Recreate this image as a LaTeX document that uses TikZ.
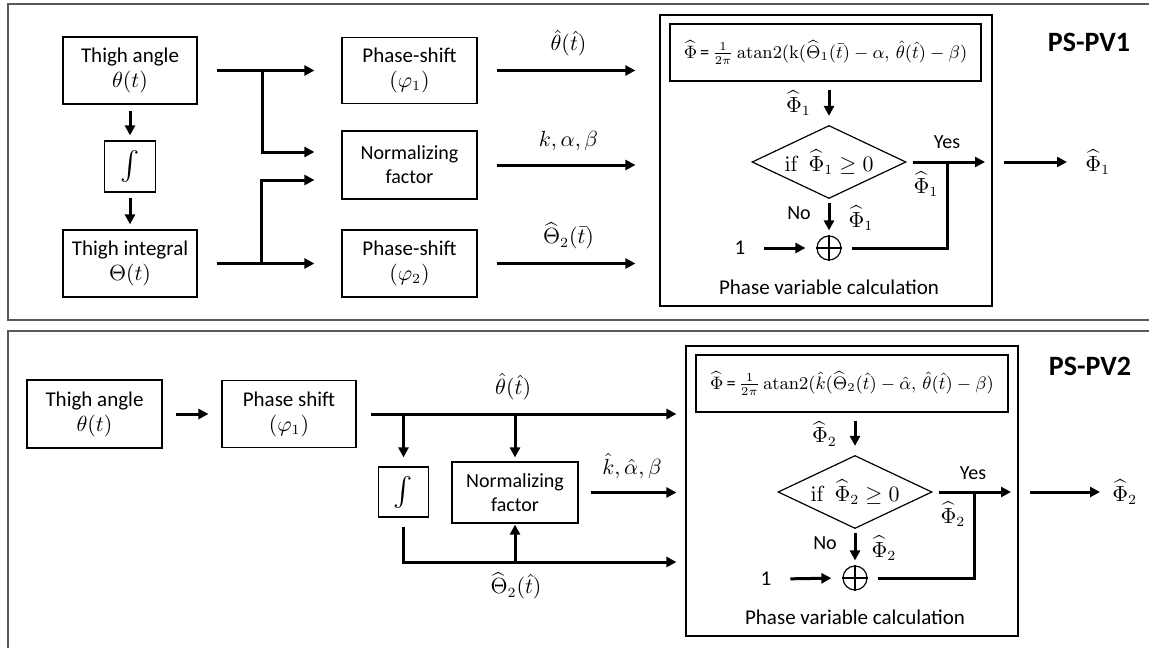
\documentclass[tikz,border=0pt]{standalone}
\usepackage{amsmath}
\usepackage[no-math]{fontspec}
\setmainfont{Carlito}
\usetikzlibrary{arrows.meta,shapes.geometric,calc}
\tikzset{
  box/.style={draw, line width=0.6pt, align=center, inner sep=0pt},
  arr/.style={line width=1.5pt, -{Triangle[length=5pt,width=5pt]}},
  ln/.style={line width=1.5pt},
  frm/.style={draw=black!65, line width=0.9pt},
  dia/.style={draw, diamond, line width=0.6pt, aspect=2.1, inner sep=0pt, minimum width=77pt, minimum height=36.5pt},
  sumc/.style={circle, draw, line width=0.6pt, minimum size=12pt, inner sep=0pt},
  small/.style={font=\fontsize{10}{12}\selectfont},
  form/.style={font=\fontsize{9.2}{11}\selectfont},
  title/.style={font=\bfseries\fontsize{14}{16}\selectfont},
}
\begin{document}
\begin{tikzpicture}[x=0.5pt,y=-0.5pt,font=\fontsize{10.5}{12.5}\selectfont]
\useasboundingbox (0,0) rectangle (1149,647);
% frames
\draw[frm] (1152,4) -- (8,4) -- (8,320) -- (1152,320);
\draw[frm] (1152,331) -- (8,331) -- (8,650);

% ================= PS-PV1 =================
\node[box, minimum width=67pt, minimum height=33.5pt] (ta1) at (130,70.5) {Thigh angle\\$\theta(t)$};
\node[box, minimum width=25.5pt, minimum height=25.5pt] (int1) at (130,166.5) {\fontsize{15}{15}\selectfont$\int$};
\node[box, minimum width=67pt, minimum height=33.5pt] (ti1) at (130,263.5) {Thigh integral\\$\Theta(t)$};
\node[box, minimum width=67.5pt, minimum height=33pt] (ps1) at (409.5,70.5) {Phase-shift\\$(\varphi_1)$};
\node[box, small, minimum width=67.5pt, minimum height=34pt] (nf1) at (409.5,165) {Normalizing\\factor};
\node[box, minimum width=67.5pt, minimum height=33.5pt] (ps2) at (409.5,263.5) {Phase-shift\\$(\varphi_2)$};
\node[box, minimum width=166pt, minimum height=145.5pt] (pvc1) at (826,160.5) {};
\node[box, form, minimum width=155.5pt, minimum height=28.5pt] (fb1) at (825.5,52.5)
  {$\widehat{\Phi}$\,=\,$\frac{1}{2\pi}\,\mathrm{atan2}(\mathrm{k}(\widehat{\Theta}_1(\bar{t})-\alpha,\,\hat{\theta}(\hat{t})-\beta)$};
\node[dia] (d1) at (829,162) {$\mathrm{if}\ \ \widehat{\Phi}_1\geq 0$};
\node[sumc] (sum1) at (829,248) {};
\draw[line width=0.6pt] (sum1.north) -- (sum1.south) (sum1.west) -- (sum1.east);
\node (one1) at (740,248) {1};
\node (pvl1) at (829,287) {Phase variable calculation};
\node[title] (t1) at (1089,42) {PS-PV1};
\node[anchor=west, inner sep=2pt] (out1) at (1081,162) {$\widehat{\Phi}_1$};
\node[small] (yes1l) at (947,142) {Yes};
\node (p1a) at (926,184) {$\widehat{\Phi}_1$};
\node[small] (no1) at (799,213) {No};
\node (p1b) at (861,218) {$\widehat{\Phi}_1$};

\draw[arr, shorten <=9.5pt, shorten >=13.5pt] (ta1.east) -- (ps1.west);
\coordinate (j1) at ([xshift=32.5pt]ta1.east);
\draw[arr, shorten >=13.5pt] (j1) |- ([yshift=6.5pt]nf1.west);
\draw[arr, shorten <=9.5pt, shorten >=13.5pt] (ti1.east) -- (ps2.west);
\coordinate (j2) at ([xshift=32pt]ti1.east);
\draw[arr, shorten >=13.5pt] (j2) |- ([yshift=-7.5pt]nf1.west);
\draw[arr, shorten <=3pt, shorten >=2.5pt] (ta1.south) -- (int1.north);
\draw[arr, shorten <=2.5pt, shorten >=2.5pt] (int1.south) -- (ti1.north);

\draw[arr, shorten <=9.5pt, shorten >=12pt] (ps1.east) -- (ps1.east -| pvc1.west) node[midway, above=3pt] {$\hat{\theta}(\hat{t})$};
\draw[arr, shorten <=9.5pt, shorten >=12pt] (nf1.east) -- (nf1.east -| pvc1.west) node[midway, above=3pt] {$k,\alpha,\beta$};
\draw[arr, shorten <=9.5pt, shorten >=12pt] (ps2.east) -- (ps2.east -| pvc1.west) node[midway, above=3pt] {$\widehat{\Theta}_2(\bar{t})$};

\draw[arr, shorten <=4pt, shorten >=4.5pt] (d1.north |- fb1.south) -- (d1.north) node[midway, left=5pt] {$\widehat{\Phi}_1$};
\coordinate (yes1) at (985,162);
\draw[arr, shorten <=3pt] (d1.east) -- (yes1);
\coordinate (j3) at (947,162);
\draw[ln, shorten <=5pt] (sum1.east) -| (j3);
\draw[arr, shorten <=2pt, shorten >=2.5pt] (d1.south) -- (sum1.north);
\draw[arr, shorten <=6pt, shorten >=5.5pt] (one1.east) -- (sum1.west);
\coordinate (o1s) at (1004,162);
\draw[arr, shorten >=7pt] (o1s) -- (out1.west);

% ================= PS-PV2 =================
\node[box, minimum width=67.5pt, minimum height=34pt] (ta2) at (94.5,414) {Thigh angle\\$\theta(t)$};
\node[box, minimum width=67pt, minimum height=33.5pt] (psb) at (289,414) {Phase shift\\$(\varphi_1)$};
\node[box, minimum width=25pt, minimum height=25pt] (int2) at (403.5,492) {\fontsize{15}{15}\selectfont$\int$};
\node[box, small, minimum width=63pt, minimum height=30.5pt] (nf2) at (515,492.5) {Normalizing\\factor};
\node[box, minimum width=166pt, minimum height=145pt] (pvc2) at (852,491) {};
\node[box, form, minimum width=156pt, minimum height=28.5pt] (fb2) at (852,383.5)
  {$\widehat{\Phi}$\,=\,$\frac{1}{2\pi}\,\mathrm{atan2}(\hat{k}(\widehat{\Theta}_2(\hat{t})-\hat{\alpha},\,\hat{\theta}(\hat{t})-\beta)$};
\node[dia] (d2) at (855,492) {$\mathrm{if}\ \ \widehat{\Phi}_2\geq 0$};
\node[sumc] (sum2) at (855,578) {};
\draw[line width=0.6pt] (sum2.north) -- (sum2.south) (sum2.west) -- (sum2.east);
\node (one2) at (766,579) {1};
\node (pvl2) at (855,617) {Phase variable calculation};
\node[title] (t2) at (1090,366) {PS-PV2};
\node[anchor=west, inner sep=2pt] (out2) at (1108,492) {$\widehat{\Phi}_2$};
\node[small] (yes2l) at (973,473) {Yes};
\node (p2a) at (953,514) {$\widehat{\Phi}_2$};
\node[small] (no2) at (825,543) {No};
\node (p2b) at (884,548) {$\widehat{\Phi}_2$};

\draw[arr, shorten <=6.5pt, shorten >=6.5pt] (ta2.east) -- (psb.west);
\draw[arr, shorten <=7pt, shorten >=4.5pt] (psb.east) -- (psb.east -| pvc2.west) node[pos=0.476, above=3pt] {$\hat{\theta}(\hat{t})$};
\coordinate (j4) at (int2.north |- psb.east);
\coordinate (j5) at (nf2.north |- psb.east);
\draw[arr, shorten >=4.5pt] (j4) -- (int2.north);
\draw[arr, shorten >=2pt] (j5) -- (nf2.north);
\draw[arr, shorten <=6pt, shorten >=4.5pt] (nf2.east) -- (nf2.east -| pvc2.west) node[midway, above=3pt] {$\hat{k},\hat{\alpha},\beta$};
\coordinate (j6) at (403.5,562);
\coordinate (e6) at (pvc2.west |- j6);
\draw[arr, shorten <=4.5pt, shorten >=4.5pt] (int2.south) |- (e6);
\coordinate (j7) at (nf2.south |- j6);
\draw[arr, shorten >=0.5pt] (j7) -- (nf2.south);
\node (th2l) at (516,586) {$\widehat{\Theta}_2(\hat{t})$};

\draw[arr, shorten <=4pt, shorten >=4.5pt] (d2.north |- fb2.south) -- (d2.north) node[midway, left=5pt] {$\widehat{\Phi}_2$};
\coordinate (yes2) at (1011,492);
\draw[arr, shorten <=3pt] (d2.east) -- (yes2);
\coordinate (j8) at (974,492);
\draw[ln, shorten <=5pt] (sum2.east) -| (j8);
\draw[arr, shorten <=2pt, shorten >=2.5pt] (d2.south) -- (sum2.north);
\draw[arr, shorten <=6pt, shorten >=5.5pt] (one2.east) -- (sum2.west);
\coordinate (o2s) at (1030,492);
\draw[arr, shorten >=4pt] (o2s) -- (out2.west);
\end{tikzpicture}
\end{document}
